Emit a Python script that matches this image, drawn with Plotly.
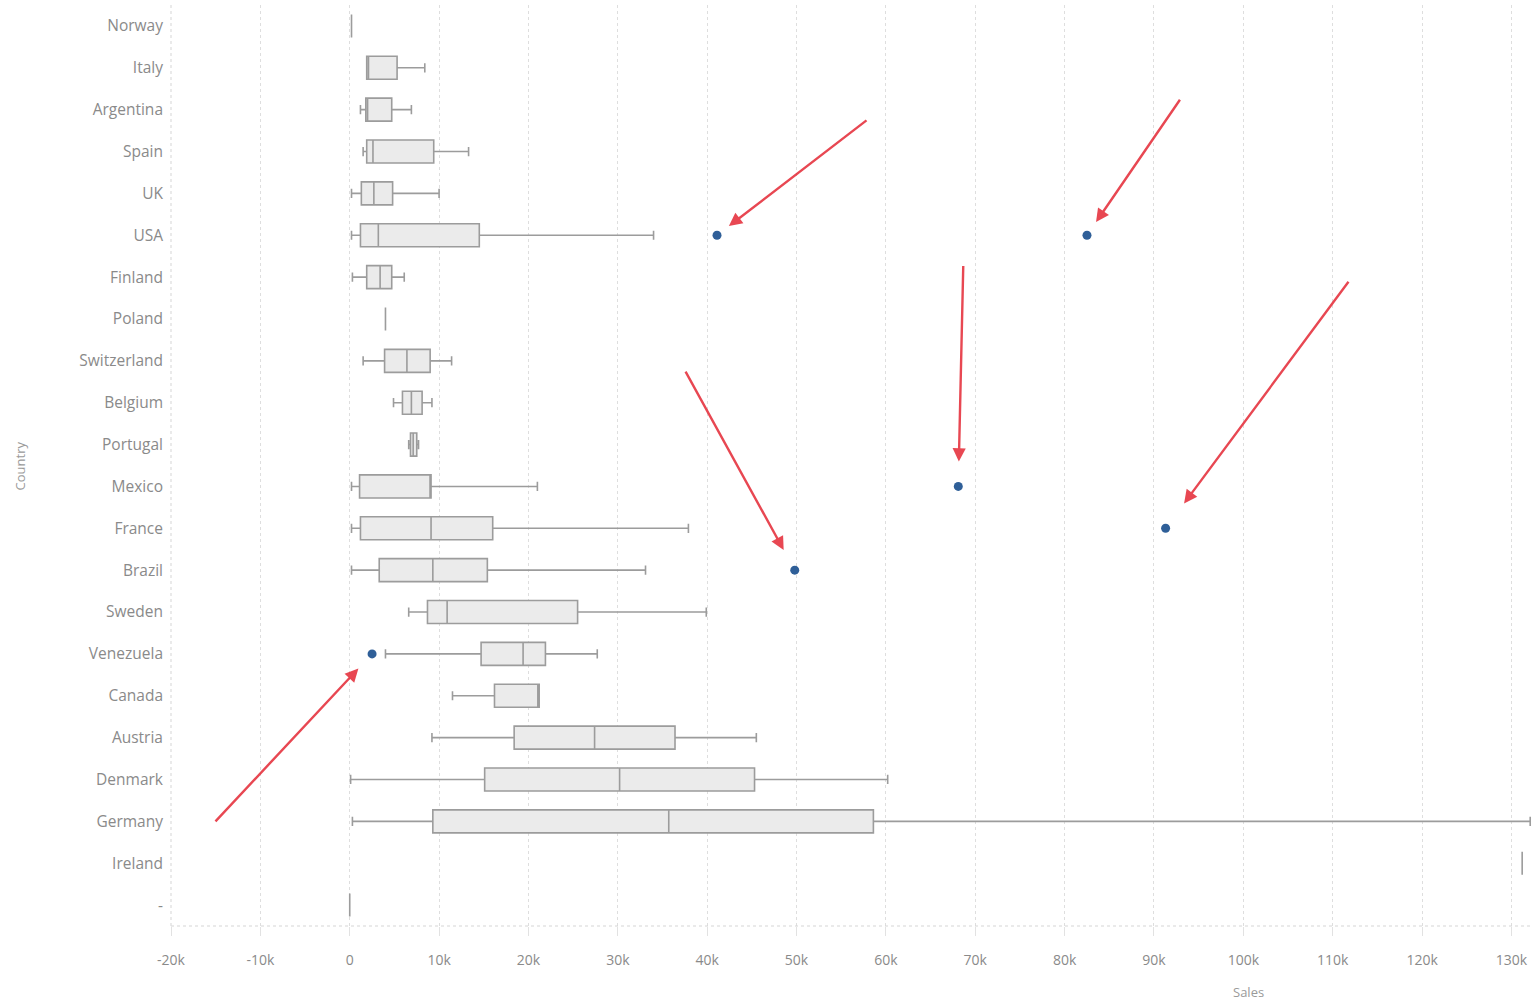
import plotly.graph_objects as go

# ---------------- data ----------------
countries = ["Norway", "Italy", "Argentina", "Spain", "UK", "USA", "Finland", "Poland",
             "Switzerland", "Belgium", "Portugal", "Mexico", "France", "Brazil", "Sweden",
             "Venezuela", "Canada", "Austria", "Denmark", "Germany", "Ireland", "-"]

lower_whisker = [200, 1900, 1200, 1500, 200, 200, 300, 4000, 1500, 4900, 6600, 200, 200, 200,
                 6600, 4000, 11500, 9200, 100, 300, 131200, 0]
q1_values = [200, 1900, 1800, 1900, 1300, 1200, 1900, 4000, 3900, 5900, 6800, 1100, 1200, 3300,
             8700, 14700, 16200, 18400, 15100, 9300, 131200, 0]
median_values = [200, 2100, 2000, 2600, 2700, 3200, 3400, 4000, 6400, 6900, 7100, 9000, 9100, 9300,
                 10900, 19400, 21050, 27400, 30200, 35700, 131200, 0]
q3_values = [200, 5300, 4700, 9400, 4800, 14500, 4700, 4000, 9000, 8100, 7500, 9100, 16000, 15400,
             25500, 21900, 21200, 36400, 45300, 58600, 131200, 0]
upper_whisker = [200, 8400, 6900, 13300, 10000, 34000, 6100, 4000, 11400, 9200, 7700, 21000, 37900,
                 33100, 39900, 27700, 21200, 45500, 60200, 132100, 131200, 0]

outlier_countries = ["USA", "USA", "Mexico", "France", "Brazil", "Venezuela"]
outlier_sales = [41100, 82500, 68100, 91300, 49800, 2500]

tick_values = [-20000, -10000, 0, 10000, 20000, 30000, 40000, 50000, 60000, 70000, 80000,
               90000, 100000, 110000, 120000, 130000]
tick_labels = ["-20k", "-10k", "0", "10k", "20k", "30k", "40k", "50k", "60k", "70k", "80k",
               "90k", "100k", "110k", "120k", "130k"]

# arrow tail offsets (pixels) and standoff for each highlighted outlier
arrow_dx = [151, 94, 5, 184, -110, -158]
arrow_dy = [-116, -137, -222, -248, -200, 169]
arrow_standoff = [15, 16, 25, 31, 23, 20]

# ---------------- figure ----------------
fig = go.Figure()

fig.add_trace(go.Box(
    y=countries,
    q1=q1_values,
    median=median_values,
    q3=q3_values,
    lowerfence=lower_whisker,
    upperfence=upper_whisker,
    orientation="h",
    boxpoints=False,
    fillcolor="#ebebeb",
    line=dict(color="#9c9c9c", width=1.6),
    whiskerwidth=0.4,
    showlegend=False,
    hoverinfo="skip",
))

fig.add_trace(go.Scatter(
    x=outlier_sales,
    y=outlier_countries,
    mode="markers",
    marker=dict(color="#2f5f98", size=9),
    showlegend=False,
    hoverinfo="skip",
))

for xv, yv, dx, dy, so in zip(outlier_sales, outlier_countries, arrow_dx, arrow_dy, arrow_standoff):
    fig.add_annotation(
        x=xv, y=yv, xref="x", yref="y",
        ax=dx, ay=dy, axref="pixel", ayref="pixel",
        text="", showarrow=True,
        arrowhead=2, arrowsize=1.1, arrowwidth=2.4,
        arrowcolor="rgba(228,40,52,0.85)",
        standoff=so,
    )

# axis titles
fig.add_annotation(text="Country", xref="paper", yref="paper",
                   x=-0.111, y=0.5, textangle=-90, showarrow=False,
                   font=dict(size=13, color="#9a9a9a"), xanchor="center", yanchor="middle")
fig.add_annotation(text="Sales", xref="paper", yref="paper",
                   x=0.792, y=-0.072, showarrow=False,
                   font=dict(size=13, color="#9a9a9a"), xanchor="center", yanchor="middle")

# dotted axis lines
fig.add_shape(type="line", xref="paper", yref="paper", x0=0, x1=1, y0=0, y1=0,
              line=dict(color="#d6d6d6", width=1.2, dash="dot"))
fig.add_shape(type="line", xref="paper", yref="paper", x0=0, x1=0, y0=0, y1=1,
              line=dict(color="#dcdcdc", width=1.2, dash="dot"))

fig.update_layout(
    width=1540, height=1002,
    margin=dict(l=171, r=8, t=5, b=76),
    paper_bgcolor="white",
    plot_bgcolor="white",
    boxgap=0.45,
    boxgroupgap=0,
    font=dict(family="Open Sans, sans-serif", color="#8a8a8a"),
    xaxis=dict(
        range=[-20000, 132300],
        tickvals=tick_values,
        ticktext=tick_labels,
        showgrid=True,
        gridcolor="#dedede",
        griddash="dot",
        gridwidth=1,
        zeroline=False,
        showline=False,
        ticks="outside",
        ticklen=9,
        tickcolor="#e2e2e2",
        tickfont=dict(size=14, color="#8a8a8a"),
        ticklabelstandoff=12,
    ),
    yaxis=dict(
        type="category",
        categoryorder="array",
        categoryarray=countries,
        autorange="reversed",
        showgrid=False,
        zeroline=False,
        showline=False,
        ticks="",
        tickfont=dict(size=15.5, color="#8a8a8a"),
        ticklabelstandoff=7,
    ),
)

fig.write_html("out.html",
               config={"displayModeBar": False},
               post_script="document.body.style.margin='0';document.body.style.overflow='hidden';")
